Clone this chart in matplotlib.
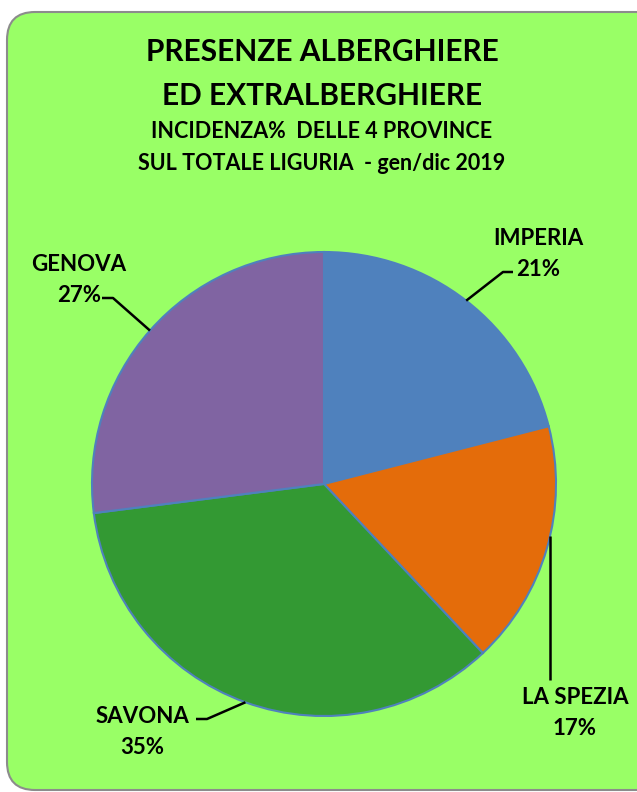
import numpy as np
import matplotlib
matplotlib.use('Agg')
import matplotlib.pyplot as plt
from matplotlib.patches import FancyBboxPatch

# data
province = ['IMPERIA', 'LA SPEZIA', 'SAVONA', 'GENOVA']
quote = [21, 17, 35, 27]
colori = ['#4F81BD', '#E46C0A', '#339933', '#8064A2']

titolo = 'PRESENZE ALBERGHIERE\nED EXTRALBERGHIERE'
sottotitolo = 'INCIDENZA%  DELLE 4 PROVINCE\nSUL TOTALE LIGURIA  - gen/dic 2019'

W, H = 637, 792
plt.rcParams['font.family'] = ['Lato', 'DejaVu Sans']

fig = plt.figure(figsize=(W / 100, H / 100), dpi=100)
ax = fig.add_axes([0, 0, 1, 1])


def Y(py):
    return H - py


# green rounded panel
box = FancyBboxPatch((7, Y(790)), 700, 778,
                     boxstyle='round,pad=0,rounding_size=28',
                     facecolor='#99FF66', edgecolor='#8C8C8C', linewidth=1.5)
ax.add_patch(box)

cx, cy, r = 324, Y(484), 232
wedges, _ = ax.pie(quote, colors=colori, startangle=90, counterclock=False,
                   center=(cx, cy), radius=r,
                   wedgeprops=dict(edgecolor='#4F81BD', linewidth=1.5))
ax.set_xlim(0, W)
ax.set_ylim(0, H)
ax.set_aspect('equal')
ax.axis('off')

ax.text(322, Y(74), titolo, ha='center', va='center', fontsize=21.5,
        fontweight='bold', linespacing=1.7)
ax.text(322, Y(147.5), sottotitolo, ha='center', va='center', fontsize=15.5,
        fontweight='bold', linespacing=1.66)

# label layout: text centre, elbow point, end of horizontal tick
layout = {
    'IMPERIA':   dict(txt=(538, 254), elbow=(503, 272), end=(513, 272)),
    'LA SPEZIA': dict(txt=(575, 713), elbow=(550, 680), end=(550, 680)),
    'SAVONA':    dict(txt=(142, 732), elbow=(207, 719), end=(196, 719)),
    'GENOVA':    dict(txt=(79, 280), elbow=(113, 298), end=(102, 298)),
}

for w, nome, q in zip(wedges, province, quote):
    ang = np.deg2rad((w.theta1 + w.theta2) / 2)
    px, py = cx + r * np.cos(ang), cy + r * np.sin(ang)
    lay = layout[nome]
    ex, ey = lay['elbow']
    fx, fy = lay['end']
    if nome == 'LA SPEZIA':
        px = ex
        py = cy + np.sqrt(r ** 2 - (ex - cx) ** 2) * np.sign(np.sin(ang))
    ax.plot([px, ex, fx], [py, Y(ey), Y(fy)], color='black', lw=1.8,
            solid_capstyle='butt', zorder=5)
    tx, ty = lay['txt']
    ax.text(tx, Y(ty), f'{nome}\n{q}%', ha='center', va='center',
            fontsize=16, fontweight='bold', linespacing=1.55)

fig.savefig('out.png', dpi=100, facecolor='white')
